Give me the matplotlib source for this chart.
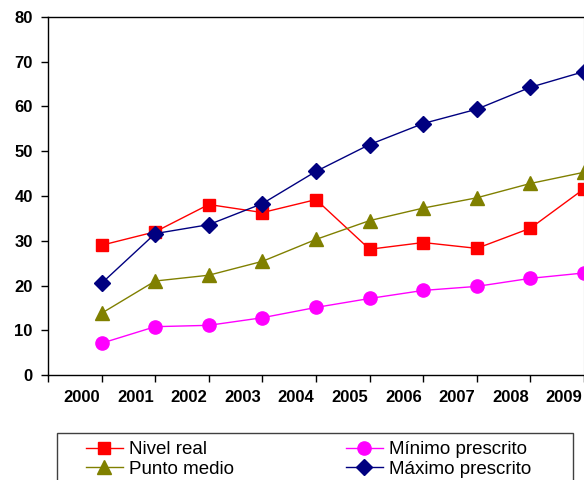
import matplotlib
matplotlib.use("Agg")
from matplotlib import pyplot as plt
from matplotlib.patches import Rectangle

plt.rcParams['font.family'] = ['Liberation Sans', 'DejaVu Sans']

years = ['2000', '2001', '2002', '2003', '2004', '2005', '2006', '2007', '2008', '2009']
nivel_real = [29.0, 32.0, 38.1, 36.3, 39.2, 28.1, 29.6, 28.3, 32.8, 41.6]
minimo = [7.1, 10.8, 11.1, 12.8, 15.1, 17.1, 18.9, 19.8, 21.6, 22.8]
punto_medio = [13.8, 21.0, 22.3, 25.4, 30.3, 34.5, 37.3, 39.6, 42.8, 45.3]
maximo = [20.5, 31.6, 33.6, 38.3, 45.5, 51.5, 56.2, 59.4, 64.3, 67.8]

fig = plt.figure(figsize=(5.84, 4.80), dpi=100)
ax = fig.add_axes([48/584, 105/480, 536/584, 358/480])

x = list(range(len(years)))
l1, = ax.plot(x, nivel_real, color='#FF0000', linewidth=1, marker='s', markersize=9, label='Nivel real')
l2, = ax.plot(x, punto_medio, color='#808000', linewidth=1, marker='^', markersize=10, label='Punto medio')
l3, = ax.plot(x, minimo, color='#FF00FF', linewidth=1, marker='o', markersize=9.5, label='Mínimo prescrito')
l4, = ax.plot(x, maximo, color='#000080', linewidth=1, marker='D', markersize=8, label='Máximo prescrito')

ax.set_xlim(-1, 9)
ax.set_ylim(0, 80)
# ticks sit on the points, labels sit a bit to the left of them
ax.set_xticks(range(-1, 10))
ax.set_xticklabels([])
ax.set_xticks([i - 0.37 for i in x], minor=True)
ax.set_xticklabels(years, minor=True, fontsize=12, fontweight='bold')
ax.tick_params(axis='x', which='minor', length=0, pad=11)
ax.set_yticks(range(0, 81, 10))
ax.set_yticklabels([str(v) for v in range(0, 81, 10)], fontsize=12, fontweight='bold')
ax.tick_params(axis='both', which='major', direction='out', length=5, width=1, color='black')
ax.tick_params(axis='y', pad=6)
for side in ['left', 'bottom', 'top']:
    ax.spines[side].set_color('black')
    ax.spines[side].set_linewidth(1)
ax.spines['right'].set_color('#808080')

fig.legend(handles=[l1, l2, l3, l4], labels=['Nivel real', 'Punto medio', 'Mínimo prescrito', 'Máximo prescrito'],
           ncol=2, loc='upper left', bbox_to_anchor=(86/584, 1 - 441/480), frameon=False,
           fontsize=13.5, handlelength=1.97, handletextpad=0.32, columnspacing=5.97,
           labelspacing=0.12, borderpad=0, borderaxespad=0)
fig.patches.append(Rectangle((57/584, -0.01), 516/584, 47.5/480 + 0.01, transform=fig.transFigure,
                             fill=False, edgecolor='#404040', linewidth=1))

fig.savefig('out.png', dpi=100)
